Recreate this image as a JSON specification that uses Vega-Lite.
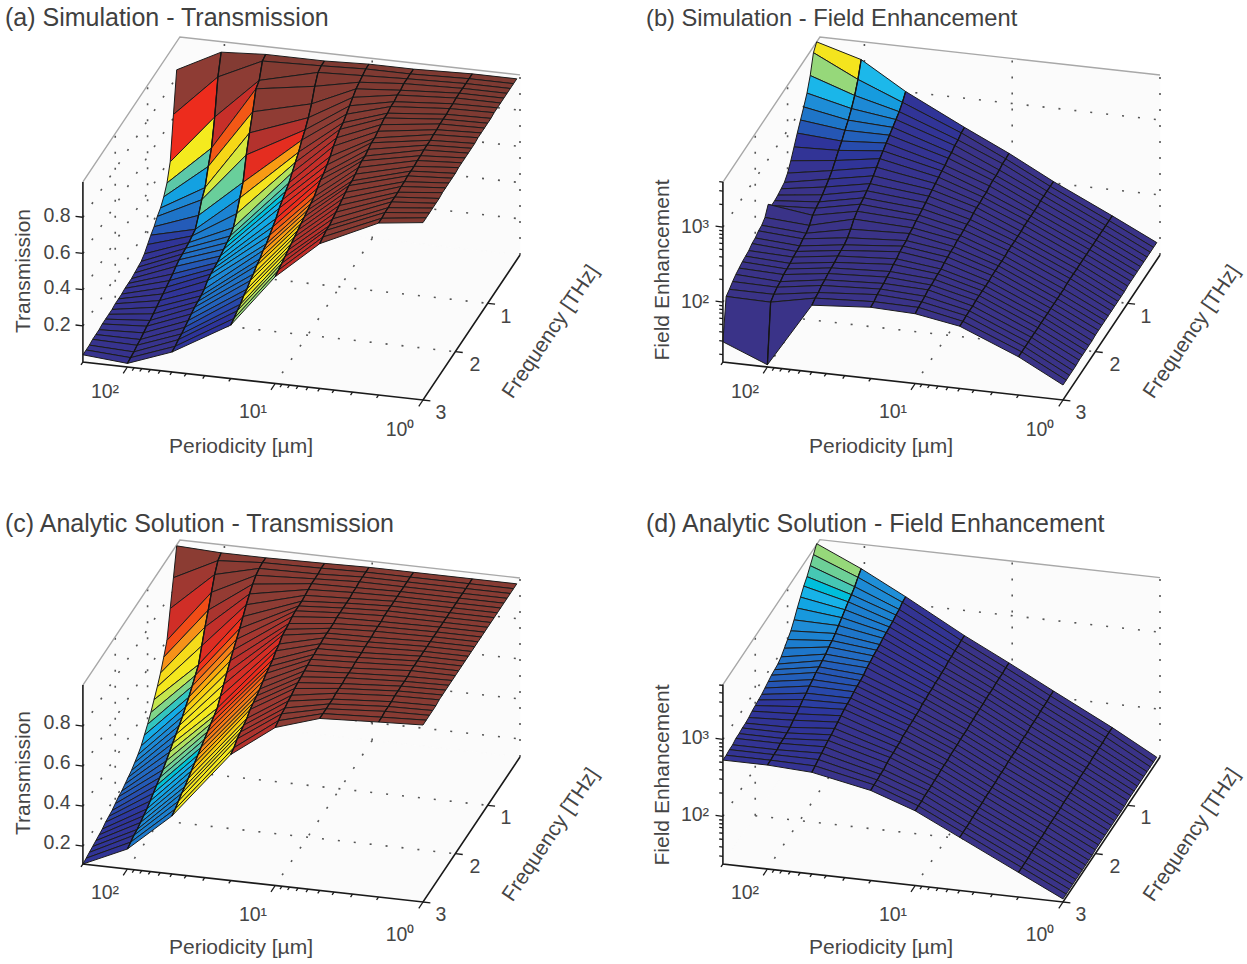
{"$schema":"https://vega.github.io/schema/vega-lite/v6.json","width":1247,"height":964,"padding":0,"autosize":"none","background":"white","config":{"view":{"stroke":null}},
"datasets":{
"wires":[
{"k":"w","s":"a","p":[200,1,1,200],"f":[0,0,0,0],"z":[0,0,0.995,0.995]},{"k":"w","s":"a","p":[200,200,200,200],"f":[3,0,0,3],"z":[0,0,0.995,0.995]},{"k":"w","s":"a","p":[200,1,1,200],"f":[3,3,0,0],"z":[0,0,0,0]},
{"k":"w","s":"b","p":[200,1,1,200],"f":[0,0,0,0],"z":[1.2,1.2,3.6,3.6]},{"k":"w","s":"b","p":[200,200,200,200],"f":[3,0,0,3],"z":[1.2,1.2,3.6,3.6]},{"k":"w","s":"b","p":[200,1,1,200],"f":[3,3,0,0],"z":[1.2,1.2,1.2,1.2]},
{"k":"w","s":"c","p":[200,1,1,200],"f":[0,0,0,0],"z":[0.11,0.11,1.005,1.005]},{"k":"w","s":"c","p":[200,200,200,200],"f":[3,0,0,3],"z":[0.11,0.11,1.005,1.005]},{"k":"w","s":"c","p":[200,1,1,200],"f":[3,3,0,0],"z":[0.11,0.11,0.11,0.11]},
{"k":"w","s":"d","p":[200,1,1,200],"f":[0,0,0,0],"z":[1.38,1.38,3.71,3.71]},{"k":"w","s":"d","p":[200,200,200,200],"f":[3,0,0,3],"z":[1.38,1.38,3.71,3.71]},{"k":"w","s":"d","p":[200,1,1,200],"f":[3,3,0,0],"z":[1.38,1.38,1.38,1.38]},
{"k":"e","s":"a","p":[200,200,1],"f":[3,0,0],"z":[0.995,0.995,0.995]},{"k":"e","s":"b","p":[200,200,1],"f":[3,0,0],"z":[3.6,3.6,3.6]},{"k":"e","s":"c","p":[200,200,1],"f":[3,0,0],"z":[1.005,1.005,1.005]},{"k":"e","s":"d","p":[200,200,1],"f":[3,0,0],"z":[3.71,3.71,3.71]},
{"k":"a","s":"a","p":[200,200,1,1],"f":[3,3,3,0],"z":[0.995,0,0,0]},{"k":"a","s":"b","p":[200,200,1,1],"f":[3,3,3,0],"z":[3.6,1.2,1.2,1.2]},{"k":"a","s":"c","p":[200,200,1,1],"f":[3,3,3,0],"z":[1.005,0.11,0.11,0.11]},{"k":"a","s":"d","p":[200,200,1,1],"f":[3,3,3,0],"z":[3.71,1.38,1.38,1.38]},
{"k":"d","s":"a","p":[200,1],"f":[1,1],"z":[0,0]},{"k":"d","s":"a","p":[200,1],"f":[2,2],"z":[0,0]},{"k":"d","s":"a","p":[100,100],"f":[0,3],"z":[0,0]},{"k":"d","s":"a","p":[10,10],"f":[0,3],"z":[0,0]},
{"k":"d","s":"a","p":[200,1],"f":[0,0],"z":[0.2,0.2]},{"k":"d","s":"a","p":[200,1],"f":[0,0],"z":[0.4,0.4]},{"k":"d","s":"a","p":[200,1],"f":[0,0],"z":[0.6,0.6]},{"k":"d","s":"a","p":[200,1],"f":[0,0],"z":[0.8,0.8]},
{"k":"d","s":"a","p":[100,100],"f":[0,0],"z":[0,0.995]},{"k":"d","s":"a","p":[10,10],"f":[0,0],"z":[0,0.995]},{"k":"d","s":"a","p":[1,1],"f":[0,0],"z":[0,0.995]},
{"k":"d","s":"a","p":[200,200],"f":[3,0],"z":[0.2,0.2]},{"k":"d","s":"a","p":[200,200],"f":[3,0],"z":[0.4,0.4]},{"k":"d","s":"a","p":[200,200],"f":[3,0],"z":[0.6,0.6]},{"k":"d","s":"a","p":[200,200],"f":[3,0],"z":[0.8,0.8]},
{"k":"d","s":"a","p":[200,200],"f":[1,1],"z":[0,0.995]},{"k":"d","s":"a","p":[200,200],"f":[2,2],"z":[0,0.995]},
{"k":"d","s":"c","p":[200,1],"f":[1,1],"z":[0.11,0.11]},{"k":"d","s":"c","p":[200,1],"f":[2,2],"z":[0.11,0.11]},{"k":"d","s":"c","p":[100,100],"f":[0,3],"z":[0.11,0.11]},{"k":"d","s":"c","p":[10,10],"f":[0,3],"z":[0.11,0.11]},
{"k":"d","s":"c","p":[200,1],"f":[0,0],"z":[0.2,0.2]},{"k":"d","s":"c","p":[200,1],"f":[0,0],"z":[0.4,0.4]},{"k":"d","s":"c","p":[200,1],"f":[0,0],"z":[0.6,0.6]},{"k":"d","s":"c","p":[200,1],"f":[0,0],"z":[0.8,0.8]},
{"k":"d","s":"c","p":[100,100],"f":[0,0],"z":[0.11,1.005]},{"k":"d","s":"c","p":[10,10],"f":[0,0],"z":[0.11,1.005]},{"k":"d","s":"c","p":[1,1],"f":[0,0],"z":[0.11,1.005]},
{"k":"d","s":"c","p":[200,200],"f":[3,0],"z":[0.2,0.2]},{"k":"d","s":"c","p":[200,200],"f":[3,0],"z":[0.4,0.4]},{"k":"d","s":"c","p":[200,200],"f":[3,0],"z":[0.6,0.6]},{"k":"d","s":"c","p":[200,200],"f":[3,0],"z":[0.8,0.8]},
{"k":"d","s":"c","p":[200,200],"f":[1,1],"z":[0.11,1.005]},{"k":"d","s":"c","p":[200,200],"f":[2,2],"z":[0.11,1.005]},
{"k":"d","s":"b","p":[200,1],"f":[1,1],"z":[1.2,1.2]},{"k":"d","s":"b","p":[200,1],"f":[2,2],"z":[1.2,1.2]},{"k":"d","s":"b","p":[100,100],"f":[0,3],"z":[1.2,1.2]},{"k":"d","s":"b","p":[10,10],"f":[0,3],"z":[1.2,1.2]},
{"k":"d","s":"b","p":[200,1],"f":[0,0],"z":[2,2]},{"k":"d","s":"b","p":[200,1],"f":[0,0],"z":[3,3]},{"k":"d","s":"b","p":[100,100],"f":[0,0],"z":[1.2,3.6]},{"k":"d","s":"b","p":[10,10],"f":[0,0],"z":[1.2,3.6]},{"k":"d","s":"b","p":[1,1],"f":[0,0],"z":[1.2,3.6]},
{"k":"d","s":"b","p":[200,200],"f":[3,0],"z":[2,2]},{"k":"d","s":"b","p":[200,200],"f":[3,0],"z":[3,3]},{"k":"d","s":"b","p":[200,200],"f":[1,1],"z":[1.2,3.6]},{"k":"d","s":"b","p":[200,200],"f":[2,2],"z":[1.2,3.6]},
{"k":"d","s":"d","p":[200,1],"f":[1,1],"z":[1.38,1.38]},{"k":"d","s":"d","p":[200,1],"f":[2,2],"z":[1.38,1.38]},{"k":"d","s":"d","p":[100,100],"f":[0,3],"z":[1.38,1.38]},{"k":"d","s":"d","p":[10,10],"f":[0,3],"z":[1.38,1.38]},
{"k":"d","s":"d","p":[200,1],"f":[0,0],"z":[2,2]},{"k":"d","s":"d","p":[200,1],"f":[0,0],"z":[3,3]},{"k":"d","s":"d","p":[100,100],"f":[0,0],"z":[1.38,3.71]},{"k":"d","s":"d","p":[10,10],"f":[0,0],"z":[1.38,3.71]},{"k":"d","s":"d","p":[1,1],"f":[0,0],"z":[1.38,3.71]},
{"k":"d","s":"d","p":[200,200],"f":[3,0],"z":[2,2]},{"k":"d","s":"d","p":[200,200],"f":[3,0],"z":[3,3]},{"k":"d","s":"d","p":[200,200],"f":[1,1],"z":[1.38,3.71]},{"k":"d","s":"d","p":[200,200],"f":[2,2],"z":[1.38,3.71]}
],
"ticks":[
{"k":"p","s":"a","l":0.13,"v":[1,10,100]},{"k":"p","s":"a","l":0.06,"v":[2,3,4,5,6,7,8,9,20,30,40,50,60,70,80,90,200]},{"k":"z","s":"a","l":0.05,"v":[0.2,0.4,0.6,0.8]},{"k":"f","s":"a","l":0.05,"v":[1,2,3]},
{"k":"p","s":"c","l":0.13,"v":[1,10,100]},{"k":"p","s":"c","l":0.06,"v":[2,3,4,5,6,7,8,9,20,30,40,50,60,70,80,90,200]},{"k":"z","s":"c","l":0.05,"v":[0.2,0.4,0.6,0.8]},{"k":"f","s":"c","l":0.05,"v":[1,2,3]},
{"k":"p","s":"b","l":0.13,"v":[1,10,100]},{"k":"p","s":"b","l":0.06,"v":[2,3,4,5,6,7,8,9,20,30,40,50,60,70,80,90,200]},{"k":"z","s":"b","l":0.05,"v":[2,3]},{"k":"z","s":"b","l":0.025,"v":[1.3,1.48,1.6,1.7,1.78,1.85,1.9,1.95,2.3,2.48,2.6,2.7,2.78,2.85,2.9,2.95,3.3,3.48,3.6]},{"k":"f","s":"b","l":0.05,"v":[1,2,3]},
{"k":"p","s":"d","l":0.13,"v":[1,10,100]},{"k":"p","s":"d","l":0.06,"v":[2,3,4,5,6,7,8,9,20,30,40,50,60,70,80,90,200]},{"k":"z","s":"d","l":0.05,"v":[2,3]},{"k":"z","s":"d","l":0.025,"v":[1.48,1.6,1.7,1.78,1.85,1.9,1.95,2.3,2.48,2.6,2.7,2.78,2.85,2.9,2.95,3.3,3.48,3.6,3.7]},{"k":"f","s":"d","l":0.05,"v":[1,2,3]}
],
"texts":[
{"k":"title","X":5,"Y":26,"t":"(a) Simulation - Transmission"},{"k":"title2","X":646,"Y":26,"t":"(b) Simulation - Field Enhancement"},{"k":"title","X":5,"Y":532,"t":"(c) Analytic Solution - Transmission"},{"k":"title","X":646,"Y":532,"t":"(d) Analytic Solution - Field Enhancement"},
{"k":"tick","X":57,"Y":216,"t":"0.8"},{"k":"tick","X":57,"Y":253,"t":"0.6"},{"k":"tick","X":57,"Y":288,"t":"0.4"},{"k":"tick","X":57,"Y":325,"t":"0.2"},
{"k":"tick","X":57,"Y":723,"t":"0.8"},{"k":"tick","X":57,"Y":763,"t":"0.6"},{"k":"tick","X":57,"Y":803,"t":"0.4"},{"k":"tick","X":57,"Y":843,"t":"0.2"},
{"k":"tick","X":695,"Y":227,"t":"10³"},{"k":"tick","X":695,"Y":302,"t":"10²"},{"k":"tick","X":695,"Y":738,"t":"10³"},{"k":"tick","X":695,"Y":815,"t":"10²"},
{"k":"tick","X":105,"Y":392,"t":"10²"},{"k":"tick","X":253,"Y":412,"t":"10¹"},{"k":"tick","X":400,"Y":430,"t":"10⁰"},{"k":"tick","X":506,"Y":317,"t":"1"},{"k":"tick","X":475,"Y":365,"t":"2"},{"k":"tick","X":441,"Y":413,"t":"3"},
{"k":"tick","X":745,"Y":392,"t":"10²"},{"k":"tick","X":893,"Y":412,"t":"10¹"},{"k":"tick","X":1040,"Y":430,"t":"10⁰"},{"k":"tick","X":1146,"Y":317,"t":"1"},{"k":"tick","X":1115,"Y":365,"t":"2"},{"k":"tick","X":1081,"Y":413,"t":"3"},
{"k":"tick","X":105,"Y":893,"t":"10²"},{"k":"tick","X":253,"Y":915,"t":"10¹"},{"k":"tick","X":400,"Y":935,"t":"10⁰"},{"k":"tick","X":506,"Y":818,"t":"1"},{"k":"tick","X":475,"Y":867,"t":"2"},{"k":"tick","X":441,"Y":915,"t":"3"},
{"k":"tick","X":745,"Y":893,"t":"10²"},{"k":"tick","X":893,"Y":915,"t":"10¹"},{"k":"tick","X":1040,"Y":935,"t":"10⁰"},{"k":"tick","X":1146,"Y":818,"t":"1"},{"k":"tick","X":1115,"Y":867,"t":"2"},{"k":"tick","X":1081,"Y":915,"t":"3"},
{"k":"ax","X":241,"Y":447,"t":"Periodicity [µm]"},{"k":"ax","X":881,"Y":447,"t":"Periodicity [µm]"},{"k":"ax","X":241,"Y":948,"t":"Periodicity [µm]"},{"k":"ax","X":881,"Y":948,"t":"Periodicity [µm]"},
{"k":"v","X":24,"Y":271,"t":"Transmission"},{"k":"v","X":24,"Y":773,"t":"Transmission"},{"k":"v","X":663,"Y":270,"t":"Field Enhancement"},{"k":"v","X":663,"Y":775,"t":"Field Enhancement"},
{"k":"s","X":551,"Y":332,"t":"Frequency [THz]"},{"k":"s","X":1192,"Y":332,"t":"Frequency [THz]"},{"k":"s","X":551,"Y":835,"t":"Frequency [THz]"},{"k":"s","X":1192,"Y":835,"t":"Frequency [THz]"}
],
"surface":[
{"s":"a","p":200,"z":[0.84,0.62,0.385,0.295,0.245,0.21,0.19,0.16,0.14,0.115,0.09,0.075,0.07,0.065,0.06,0.06,0.06,0.055,0.055,0.055,0.05,0.05,0.05,0.05,0.045,0.045,0.045,0.04,0.04,0.04]},
{"s":"a","p":100,"z":[0.965,0.855,0.66,0.515,0.44,0.35,0.31,0.25,0.2,0.19,0.18,0.175,0.17,0.165,0.155,0.14,0.13,0.12,0.11,0.1,0.09,0.08,0.07,0.065,0.055,0.045,0.04,0.03,0.025,0.02]},
{"s":"a","p":50,"z":[0.98,0.97,0.89,0.87,0.77,0.68,0.585,0.46,0.4,0.34,0.29,0.27,0.26,0.25,0.24,0.23,0.225,0.22,0.21,0.19,0.18,0.175,0.17,0.16,0.15,0.14,0.13,0.125,0.115,0.11]},
{"s":"a","p":20,"z":[0.98,0.98,0.97,0.92,0.85,0.8,0.76,0.73,0.69,0.66,0.63,0.6,0.58,0.56,0.54,0.51,0.49,0.47,0.45,0.44,0.42,0.41,0.39,0.38,0.36,0.35,0.33,0.32,0.305,0.295]},
{"s":"a","p":10,"z":[0.99,0.99,0.98,0.97,0.96,0.94,0.92,0.9,0.88,0.87,0.85,0.83,0.8,0.78,0.76,0.75,0.73,0.71,0.7,0.69,0.68,0.67,0.66,0.65,0.64,0.63,0.62,0.61,0.6,0.59]},
{"s":"a","p":5,"z":[0.99,0.99,0.99,0.99,0.98,0.98,0.97,0.97,0.96,0.96,0.95,0.94,0.93,0.93,0.92,0.91,0.91,0.9,0.89,0.88,0.88,0.87,0.86,0.85,0.84,0.83,0.82,0.82,0.81,0.8]},
{"s":"a","p":2,"z":[1,1,1,1,1,1,0.995,0.995,0.99,0.99,0.99,0.985,0.985,0.98,0.98,0.98,0.975,0.975,0.97,0.97,0.97,0.965,0.965,0.96,0.96,0.96,0.955,0.955,0.95,0.95]},
{"s":"a","p":1,"z":[1,1,1,1,1,1,1,1,0.995,0.995,0.995,0.995,0.995,0.99,0.99,0.99,0.99,0.99,0.99,0.985,0.985,0.985,0.985,0.985,0.98,0.98,0.98,0.98,0.98,0.98]},
{"s":"c","p":200,"z":[1,0.865,0.735,0.6,0.54,0.485,0.44,0.4,0.36,0.325,0.295,0.265,0.245,0.23,0.215,0.205,0.195,0.185,0.18,0.17,0.16,0.155,0.15,0.14,0.135,0.13,0.125,0.12,0.115,0.11]},
{"s":"c","p":100,"z":[0.99,0.975,0.93,0.865,0.8,0.74,0.67,0.6,0.57,0.54,0.51,0.485,0.46,0.44,0.42,0.4,0.38,0.36,0.34,0.325,0.31,0.295,0.28,0.265,0.255,0.245,0.235,0.23,0.22,0.21]},
{"s":"c","p":50,"z":[0.99,0.99,0.985,0.975,0.955,0.93,0.9,0.865,0.83,0.8,0.77,0.74,0.705,0.67,0.635,0.6,0.585,0.57,0.555,0.54,0.525,0.51,0.495,0.48,0.465,0.45,0.44,0.425,0.41,0.4]},
{"s":"c","p":20,"z":[0.995,0.995,0.99,0.99,0.99,0.985,0.98,0.975,0.975,0.975,0.97,0.96,0.955,0.95,0.93,0.92,0.9,0.89,0.88,0.865,0.85,0.84,0.83,0.82,0.8,0.79,0.78,0.77,0.75,0.74]},
{"s":"c","p":10,"z":[1,1,1,1,0.995,0.995,0.99,0.99,0.99,0.99,0.99,0.985,0.985,0.985,0.985,0.98,0.98,0.975,0.975,0.97,0.965,0.96,0.955,0.95,0.94,0.935,0.925,0.92,0.91,0.9]},
{"s":"c","p":5,"z":[1,1,1,1,1,1,1,1,1,1,0.995,0.995,0.995,0.99,0.99,0.99,0.985,0.985,0.985,0.98,0.98,0.98,0.975,0.975,0.975,0.97,0.97,0.97,0.97,0.97]},
{"s":"c","p":2,"z":[1,1,1,1,1,1,1,1,1,1,1,1,1,1,1,1,1,1,1,1,0.995,0.995,0.995,0.995,0.995,0.99,0.99,0.99,0.985,0.985]},
{"s":"c","p":1,"z":[1,1,1,1,1,1,1,1,1,1,1,1,1,1,1,1,1,1,1,1,1,1,1,1,1,0.995,0.995,0.995,0.995,0.995]},
{"s":"b","p":200,"z":[3.6,3.52,3.28,3.11,2.99,2.88,2.77,2.65,2.53,2.43,2.37,2.35,2.33,2.32,2.32,2.4,2.29,2.25,2.24,2.21,2.2,2.17,2.16,2.15,2.13,2.11,2.08,2.04,2.01,1.47]},
{"s":"b","p":100,"z":[3.43,3.23,3.08,2.97,2.88,2.81,2.73,2.67,2.6,2.53,2.48,2.44,2.4,2.37,2.35,2.32,2.25,2.21,2.2,2.17,2.16,2.15,2.13,2.12,2.11,2.08,2.07,2.04,2,1.23]},
{"s":"b","p":50,"z":[3.07,2.99,2.93,2.89,2.85,2.81,2.77,2.73,2.69,2.64,2.59,2.55,2.52,2.49,2.47,2.44,2.4,2.33,2.28,2.25,2.24,2.23,2.21,2.2,2.19,2.17,2.16,2.13,2.12,2.09]},
{"s":"b","p":20,"z":[2.68,2.67,2.64,2.63,2.6,2.59,2.56,2.55,2.53,2.51,2.49,2.47,2.45,2.43,2.41,2.4,2.37,2.36,2.33,2.32,2.31,2.28,2.27,2.24,2.23,2.21,2.2,2.19,2.16,2.15]},
{"s":"b","p":10,"z":[2.4,2.39,2.39,2.37,2.36,2.36,2.35,2.33,2.33,2.32,2.32,2.31,2.29,2.29,2.28,2.27,2.27,2.25,2.25,2.24,2.23,2.21,2.21,2.2,2.19,2.19,2.17,2.16,2.15,2.13]},
{"s":"b","p":5,"z":[2.09,2.09,2.09,2.09,2.09,2.08,2.08,2.08,2.08,2.08,2.07,2.07,2.07,2.07,2.07,2.06,2.06,2.06,2.06,2.06,2.05,2.05,2.05,2.05,2.05,2.04,2.04,2.04,2.03,2.03]},
{"s":"b","p":2,"z":[1.72,1.72,1.72,1.72,1.72,1.72,1.72,1.72,1.72,1.72,1.72,1.72,1.72,1.72,1.72,1.71,1.71,1.71,1.71,1.71,1.71,1.71,1.71,1.71,1.71,1.71,1.71,1.71,1.71,1.71]},
{"s":"b","p":1,"z":[1.43,1.43,1.43,1.43,1.43,1.43,1.43,1.43,1.43,1.43,1.42,1.42,1.42,1.42,1.42,1.42,1.42,1.42,1.42,1.42,1.41,1.41,1.41,1.41,1.41,1.4,1.4,1.4,1.4,1.4]},
{"s":"d","p":200,"z":[3.72,3.64,3.56,3.48,3.42,3.34,3.26,3.17,3.09,3.04,2.99,2.94,2.91,2.9,2.89,2.87,2.85,2.83,2.82,2.81,2.8,2.78,2.77,2.77,2.76,2.76,2.74,2.74,2.73,2.73]},
{"s":"d","p":100,"z":[3.46,3.41,3.35,3.31,3.28,3.24,3.2,3.16,3.12,3.09,3.07,3.04,3.02,3,2.99,2.96,2.94,2.91,2.89,2.86,2.83,2.81,2.78,2.77,2.76,2.76,2.74,2.74,2.73,2.73]},
{"s":"d","p":50,"z":[3.16,3.15,3.12,3.11,3.09,3.08,3.07,3.06,3.04,3.03,3.02,3,2.99,2.96,2.95,2.94,2.93,2.91,2.9,2.89,2.87,2.85,2.83,2.81,2.8,2.78,2.76,2.74,2.72,2.7]},
{"s":"d","p":20,"z":[2.74,2.74,2.73,2.73,2.72,2.72,2.7,2.7,2.69,2.69,2.68,2.68,2.67,2.67,2.65,2.65,2.64,2.64,2.63,2.63,2.61,2.61,2.6,2.6,2.59,2.57,2.57,2.56,2.56,2.55]},
{"s":"d","p":10,"z":[2.45,2.45,2.44,2.44,2.44,2.43,2.43,2.43,2.42,2.42,2.42,2.41,2.41,2.4,2.4,2.4,2.39,2.39,2.39,2.38,2.38,2.38,2.37,2.37,2.36,2.36,2.36,2.35,2.35,2.35]},
{"s":"d","p":5,"z":[2.15,2.15,2.14,2.14,2.14,2.13,2.13,2.13,2.12,2.12,2.12,2.11,2.11,2.11,2.11,2.1,2.1,2.1,2.09,2.09,2.09,2.09,2.08,2.08,2.08,2.08,2.07,2.07,2.07,2.07]},
{"s":"d","p":2,"z":[1.76,1.76,1.76,1.75,1.75,1.75,1.75,1.74,1.74,1.74,1.74,1.73,1.73,1.73,1.73,1.73,1.72,1.72,1.72,1.72,1.72,1.71,1.71,1.71,1.71,1.71,1.7,1.7,1.7,1.7]},
{"s":"d","p":1,"z":[1.44,1.44,1.44,1.44,1.44,1.44,1.44,1.44,1.44,1.44,1.43,1.43,1.43,1.43,1.43,1.43,1.43,1.43,1.43,1.43,1.42,1.42,1.42,1.42,1.42,1.42,1.42,1.42,1.42,1.42]}
]},
"encoding":{"x":{"field":"X","type":"quantitative","scale":{"domain":[0,1247],"nice":false,"zero":false},"axis":null},"y":{"field":"Y","type":"quantitative","scale":{"domain":[964,0],"nice":false,"zero":false},"axis":null}},
"layer":[
{"data":{"name":"wires"},"transform":[{"filter":"datum.k=='w'"},{"window":[{"op":"row_number","as":"g"}]},{"flatten":["p","f","z"]},{"window":[{"op":"row_number","as":"o"}],"groupby":["g"]},
{"calculate":"{a:0,b:640,c:0,d:640}[datum.s]+423-147.8*log(datum.p)/LN10+97*(1-datum.f/3)","as":"X"},{"calculate":"{a:400,b:400,c:902,d:902}[datum.s]-16.5*log(datum.p)/LN10-145*(1-datum.f/3)-(datum.z-{a:0,b:1.2,c:0.11,d:1.38}[datum.s])*{a:181,b:75,c:200,d:77}[datum.s]","as":"Y"}],
"mark":{"type":"line","fill":"#fbfbfb","stroke":"#fbfbfb","strokeWidth":0.5,"interpolate":"linear-closed"},"encoding":{"detail":{"field":"g"},"order":{"field":"o"}}},
{"data":{"name":"wires"},"transform":[{"filter":"datum.k=='d'"},{"window":[{"op":"row_number","as":"g"}]},{"flatten":["p","f","z"]},{"window":[{"op":"row_number","as":"o"}],"groupby":["g"]},
{"calculate":"{a:0,b:640,c:0,d:640}[datum.s]+423-147.8*log(datum.p)/LN10+97*(1-datum.f/3)","as":"X"},{"calculate":"{a:400,b:400,c:902,d:902}[datum.s]-16.5*log(datum.p)/LN10-145*(1-datum.f/3)-(datum.z-{a:0,b:1.2,c:0.11,d:1.38}[datum.s])*{a:181,b:75,c:200,d:77}[datum.s]","as":"Y"}],
"mark":{"type":"line","stroke":"#555555","strokeWidth":1.6,"strokeDash":[2,14]},"encoding":{"detail":{"field":"g"},"order":{"field":"o"}}},
{"data":{"name":"wires"},"transform":[{"filter":"datum.k=='e'"},{"window":[{"op":"row_number","as":"g"}]},{"flatten":["p","f","z"]},{"window":[{"op":"row_number","as":"o"}],"groupby":["g"]},
{"calculate":"{a:0,b:640,c:0,d:640}[datum.s]+423-147.8*log(datum.p)/LN10+97*(1-datum.f/3)","as":"X"},{"calculate":"{a:400,b:400,c:902,d:902}[datum.s]-16.5*log(datum.p)/LN10-145*(1-datum.f/3)-(datum.z-{a:0,b:1.2,c:0.11,d:1.38}[datum.s])*{a:181,b:75,c:200,d:77}[datum.s]","as":"Y"}],
"mark":{"type":"line","stroke":"#a8a8a8","strokeWidth":1.4},"encoding":{"detail":{"field":"g"},"order":{"field":"o"}}},
{"data":{"name":"surface"},"transform":[{"flatten":["z"]},{"window":[{"op":"row_number","as":"i"}],"groupby":["s","p"]},{"calculate":"datum.i/10","as":"f"},
{"calculate":"{a:0,b:640,c:0,d:640}[datum.s]+423-147.8*log(datum.p)/LN10+97*(1-datum.f/3)","as":"X"},{"calculate":"{a:400,b:400,c:902,d:902}[datum.s]-16.5*log(datum.p)/LN10-145*(1-datum.f/3)-(datum.z-{a:0,b:1.2,c:0.11,d:1.38}[datum.s])*{a:181,b:75,c:200,d:77}[datum.s]","as":"Y"},
{"window":[{"op":"lead","field":"X","as":"X1"},{"op":"lead","field":"Y","as":"Y1"},{"op":"lead","field":"z","as":"z1"}],"groupby":["s","i"],"sort":[{"field":"p","order":"descending"}]},
{"window":[{"op":"lead","field":"X","as":"X3"},{"op":"lead","field":"Y","as":"Y3"},{"op":"lead","field":"z","as":"z3"},{"op":"lead","field":"X1","as":"X2"},{"op":"lead","field":"Y1","as":"Y2"},{"op":"lead","field":"z1","as":"z2"}],"groupby":["s","p"],"sort":[{"field":"i"}]},
{"filter":"datum.X1!=null&&datum.X3!=null"},
{"calculate":"datum.s=='a'?(datum.z+datum.z3)/2:datum.s=='c'?0.85*(datum.z+datum.z3)/2:datum.s=='b'?0.37-(3.33-(datum.z1+datum.z2)/2)*0.4:0.3-(3.435-(datum.z1+datum.z2)/2)*0.32","as":"n"},
{"calculate":"datum.s+'_'+datum.p+'_'+datum.i","as":"q"},{"calculate":"[0,1,2,3]","as":"v"},{"flatten":["v"]},
{"calculate":"[datum.X,datum.X1,datum.X2,datum.X3][datum.v]","as":"PX"},{"calculate":"[datum.Y,datum.Y1,datum.Y2,datum.Y3][datum.v]","as":"PY"},{"calculate":"datum.PX","as":"X"},{"calculate":"datum.PY","as":"Y"}],
"mark":{"type":"line","stroke":"#1c1c1c","strokeWidth":1,"interpolate":"linear-closed"},
"encoding":{"detail":{"field":"q"},"order":{"field":"v"},"fill":{"field":"n","type":"quantitative","legend":null,"scale":{"clamp":true,"domain":[0,0.12,0.16,0.21,0.25,0.27,0.3,0.34,0.39,0.44,0.5,0.62,0.72,1],"range":["#3a3388","#2e349a","#2368c0","#1f8fd8","#1cb8ea","#5cc8a8","#96d87a","#f4ea1e","#f4e01e","#f58a1c","#ee2c1c","#b8302c","#8f3c34","#7e3a32"]}}}},
{"data":{"name":"surface"},"transform":[{"flatten":["z"]},{"window":[{"op":"row_number","as":"i"}],"groupby":["s","p"]},{"calculate":"datum.i/10","as":"f"},
{"calculate":"{a:0,b:640,c:0,d:640}[datum.s]+423-147.8*log(datum.p)/LN10+97*(1-datum.f/3)","as":"X"},{"calculate":"{a:400,b:400,c:902,d:902}[datum.s]-16.5*log(datum.p)/LN10-145*(1-datum.f/3)-(datum.z-{a:0,b:1.2,c:0.11,d:1.38}[datum.s])*{a:181,b:75,c:200,d:77}[datum.s]","as":"Y"},{"filter":"datum.p<200&&datum.p>1"},{"calculate":"datum.s+datum.p","as":"q"}],
"mark":{"type":"line","stroke":"#141414","strokeWidth":1.3},"encoding":{"detail":{"field":"q"},"order":{"field":"i"}}},
{"data":{"name":"wires"},"transform":[{"filter":"datum.k=='a'"},{"window":[{"op":"row_number","as":"g"}]},{"flatten":["p","f","z"]},{"window":[{"op":"row_number","as":"o"}],"groupby":["g"]},
{"calculate":"{a:0,b:640,c:0,d:640}[datum.s]+423-147.8*log(datum.p)/LN10+97*(1-datum.f/3)","as":"X"},{"calculate":"{a:400,b:400,c:902,d:902}[datum.s]-16.5*log(datum.p)/LN10-145*(1-datum.f/3)-(datum.z-{a:0,b:1.2,c:0.11,d:1.38}[datum.s])*{a:181,b:75,c:200,d:77}[datum.s]","as":"Y"}],
"mark":{"type":"line","stroke":"#1a1a1a","strokeWidth":1.6},"encoding":{"detail":{"field":"g"},"order":{"field":"o"}}},
{"data":{"name":"ticks"},"transform":[{"flatten":["v"]},
{"calculate":"datum.k=='p'?log(datum.v)/LN10:datum.k=='z'?2.301:0","as":"T"},{"calculate":"datum.k=='f'?datum.v:3","as":"F"},{"calculate":"datum.k=='z'?datum.v:{a:0,b:1.2,c:0.11,d:1.38}[datum.s]","as":"Z"},
{"calculate":"datum.k=='z'?datum.T+datum.l:datum.k=='f'?datum.T-datum.l:datum.T","as":"T2"},{"calculate":"datum.k=='p'?datum.F+datum.l:datum.F","as":"F2"},
{"calculate":"{a:0,b:640,c:0,d:640}[datum.s]+423-147.8*datum.T+97*(1-datum.F/3)","as":"X"},{"calculate":"{a:400,b:400,c:902,d:902}[datum.s]-16.5*datum.T-145*(1-datum.F/3)-(datum.Z-{a:0,b:1.2,c:0.11,d:1.38}[datum.s])*{a:181,b:75,c:200,d:77}[datum.s]","as":"Y"},
{"calculate":"{a:0,b:640,c:0,d:640}[datum.s]+423-147.8*datum.T2+97*(1-datum.F2/3)","as":"X2"},{"calculate":"{a:400,b:400,c:902,d:902}[datum.s]-16.5*datum.T2-145*(1-datum.F2/3)-(datum.Z-{a:0,b:1.2,c:0.11,d:1.38}[datum.s])*{a:181,b:75,c:200,d:77}[datum.s]","as":"Y2"}],
"mark":{"type":"rule","stroke":"#1a1a1a","strokeWidth":1.3},"encoding":{"x2":{"field":"X2"},"y2":{"field":"Y2"}}},
{"data":{"name":"texts"},"transform":[{"filter":"datum.k=='title'"}],"mark":{"type":"text","font":"Liberation Sans","fontSize":25,"align":"left","baseline":"alphabetic","fill":"#404040"},"encoding":{"text":{"field":"t"}}},
{"data":{"name":"texts"},"transform":[{"filter":"datum.k=='title2'"}],"mark":{"type":"text","font":"Liberation Sans","fontSize":23.7,"align":"left","baseline":"alphabetic","fill":"#404040"},"encoding":{"text":{"field":"t"}}},
{"data":{"name":"texts"},"transform":[{"filter":"datum.k=='tick'"}],"mark":{"type":"text","font":"Liberation Sans","fontSize":19.5,"align":"center","baseline":"middle","fill":"#454545"},"encoding":{"text":{"field":"t"}}},
{"data":{"name":"texts"},"transform":[{"filter":"datum.k=='ax'"}],"mark":{"type":"text","font":"Liberation Sans","fontSize":21,"align":"center","baseline":"middle","fill":"#454545"},"encoding":{"text":{"field":"t"}}},
{"data":{"name":"texts"},"transform":[{"filter":"datum.k=='v'"}],"mark":{"type":"text","font":"Liberation Sans","fontSize":21,"align":"center","baseline":"middle","angle":270,"fill":"#454545"},"encoding":{"text":{"field":"t"}}},
{"data":{"name":"texts"},"transform":[{"filter":"datum.k=='s'"}],"mark":{"type":"text","font":"Liberation Sans","fontSize":21,"align":"center","baseline":"middle","angle":304,"fill":"#454545"},"encoding":{"text":{"field":"t"}}}
]}
